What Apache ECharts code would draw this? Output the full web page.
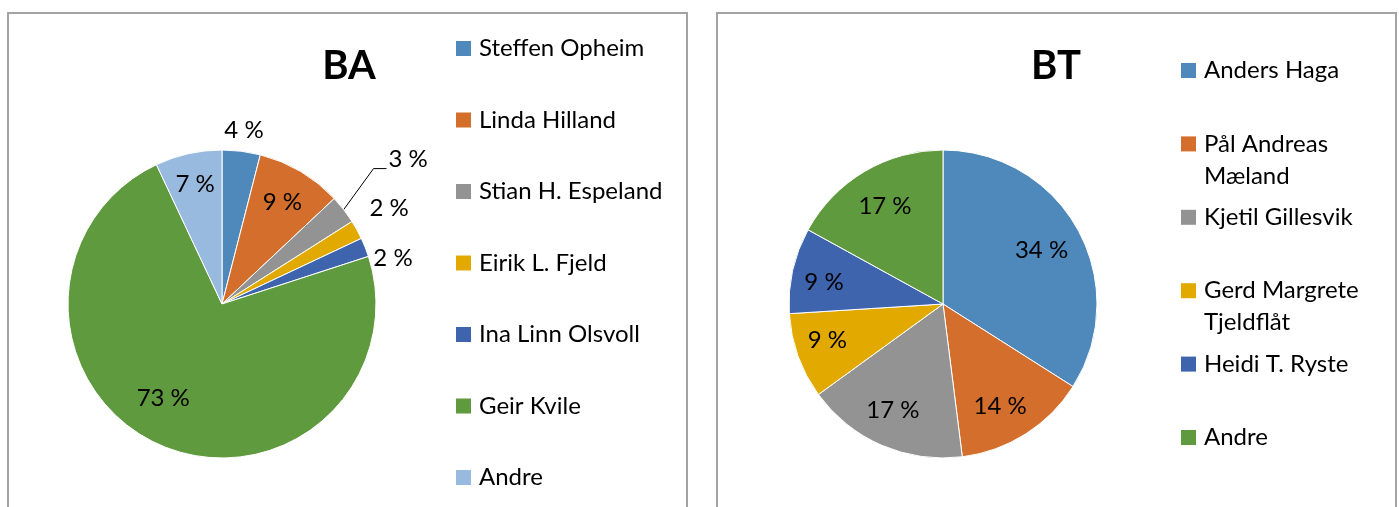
<!DOCTYPE html>
<html>
<head>
<meta charset="utf-8">
<script src="https://cdn.jsdelivr.net/npm/echarts@6/dist/echarts.min.js"></script>
<style>
  html, body { margin: 0; padding: 0; background: #fff; width: 1399px; height: 507px; overflow: hidden; }
  .panel { position: absolute; top: 12px; height: 530px; border: 2px solid #a3a3a3; box-sizing: border-box; }
  #ba { left: 7px; width: 681px; }
  #bt { left: 716px; width: 681px; }
</style>
</head>
<body>
<div id="ba" class="panel"></div>
<div id="bt" class="panel"></div>
<script>
// data
const baTitle = "BA";
const baNames = ["Steffen Opheim", "Linda Hilland", "Stian H. Espeland", "Eirik L. Fjeld", "Ina Linn Olsvoll", "Geir Kvile", "Andre"];
const baValues = [4, 9, 3, 2, 2, 73, 7];

const btTitle = "BT";
const btNames = ["Anders Haga", "Pål Andreas\nMæland", "Kjetil Gillesvik", "Gerd Margrete\nTjeldflåt", "Heidi T. Ryste", "Andre"];
const btValues = [34, 14, 17, 9, 9, 17];

// styling
const baColors = ["#4f88bb", "#d46e2c", "#939393", "#e2aa00", "#3d64ad", "#609a3e", "#99badf"];
const btColors = ["#4f88bb", "#d46e2c", "#939393", "#e2aa00", "#3d64ad", "#609a3e"];
// label placement: [radius factor, angle shift in degrees]
const baLabelPlace = [[1.14, 0], [0.77, 0], [1.53, 0], [1.25, -1], [1.15, 6.5], [0.72, 8.6], [0.8, 0]];
const btLabelPlace = [[0.73, 0], [0.76, 3.2], [0.76, 1.9], [0.786, 2.6], [0.786, -2.1], [0.74, 0]];

const FONT = "Lato";
const R = 154;

function labelLayoutFn(values, place, cx, cy, lineIdx) {
  const total = values.reduce((a, b) => a + b, 0);
  const mids = [];
  let acc = 0;
  values.forEach((v) => {
    mids.push(((acc + v / 2) / total) * 360);
    acc += v;
  });
  return (p) => {
    const [k, shift] = place[p.dataIndex];
    const a = ((mids[p.dataIndex] + shift) * Math.PI) / 180;
    const x = cx + k * R * Math.sin(a);
    const y = cy - k * R * Math.cos(a);
    const out = { x, y, align: "center", verticalAlign: "middle" };
    if (p.dataIndex === lineIdx) {
      const m = (mids[p.dataIndex] * Math.PI) / 180;
      const x2 = x - p.labelRect.width / 2 - 2;
      out.labelLinePoints = [
        [cx + R * Math.sin(m), cy - R * Math.cos(m)],
        [x2 - 13, y + 9],
        [x2, y + 9],
      ];
    }
    return out;
  };
}

function buildOption(cfg) {
  return {
    animation: false,
    title: {
      text: cfg.title,
      left: cfg.titleX,
      top: 23,
      textAlign: "center",
      textStyle: { fontFamily: FONT, fontSize: 40, fontWeight: "bold", color: "#000", lineHeight: 48 },
    },
    legend: {
      orient: "vertical",
      left: cfg.legendX,
      top: cfg.legendTop,
      padding: 0,
      itemGap: cfg.legendGap,
      itemWidth: 15,
      itemHeight: 15,
      icon: "rect",
      selectedMode: false,
      itemStyle: { borderWidth: 0 },
      formatter: cfg.legendFormatter,
      textStyle: { fontFamily: FONT, fontSize: 24, color: "#000", lineHeight: 32, padding: [0, 0, 0, 3] },
    },
    series: [
      {
        type: "pie",
        center: [cfg.cx, cfg.cy],
        radius: R,
        startAngle: 90,
        clockwise: true,
        avoidLabelOverlap: false,
        emphasis: { disabled: true },
        itemStyle: { borderColor: "#fff", borderWidth: 1 },
        label: {
          show: true,
          position: "inside",
          formatter: "{c} %",
          fontFamily: FONT,
          fontSize: 24,
          color: "#000",
        },
        labelLine: { show: false, lineStyle: { color: "#000", width: 1 } },
        labelLayout: labelLayoutFn(cfg.values, cfg.place, cfg.cx, cfg.cy, cfg.lineIdx),
        data: cfg.names.map((n, i) => {
          const d = { name: n, value: cfg.values[i], itemStyle: { color: cfg.colors[i] } };
          if (i === cfg.lineIdx) {
            d.label = { position: "outside" };
            d.labelLine = { show: true, length: 10, length2: 10 };
          }
          return d;
        }),
      },
    ],
  };
}

const baChart = echarts.init(document.getElementById("ba"));
baChart.setOption(
  buildOption({
    title: baTitle,
    titleX: 335,
    names: baNames,
    values: baValues,
    colors: baColors,
    place: baLabelPlace,
    cx: 213,
    cy: 290,
    lineIdx: 2,
    legendX: 447,
    legendTop: 18.5,
    legendGap: 39.5,
    legendFormatter: (name) => name,
  })
);

const btChart = echarts.init(document.getElementById("bt"));
btChart.setOption(
  buildOption({
    title: btTitle,
    titleX: 333,
    names: btNames,
    values: btValues,
    colors: btColors,
    place: btLabelPlace,
    cx: 225,
    cy: 290,
    lineIdx: -1,
    legendX: 463,
    legendTop: 8.5,
    legendGap: -22.6,
    // keep the first line of each entry level with its colour square
    legendFormatter: (name) => (name.includes("\n") ? "\n" + name : "\n" + name + "\n"),
  })
);
</script>
</body>
</html>
